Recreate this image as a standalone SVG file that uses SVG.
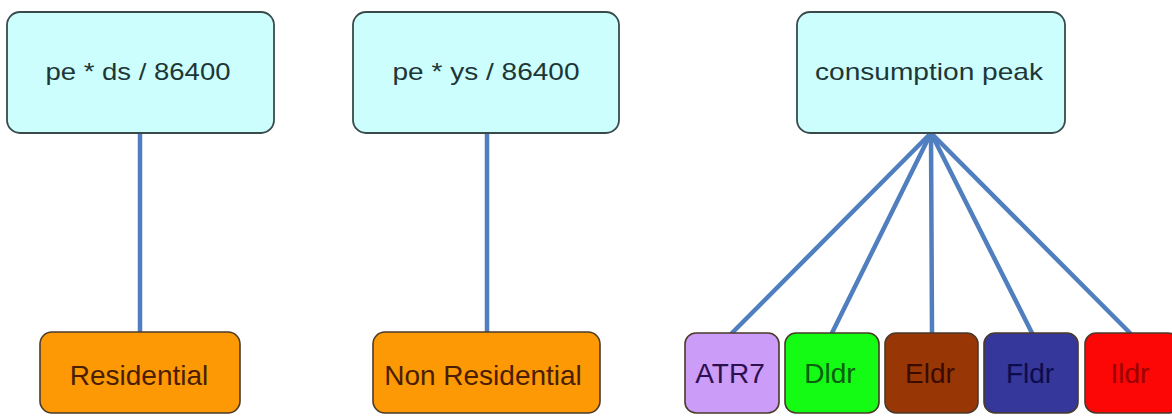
<svg xmlns="http://www.w3.org/2000/svg" width="1172" height="416" viewBox="0 0 1172 416">
  <style>
    .top { fill: #ccfefe; stroke: #3a4a4a; stroke-width: 1.8; }
    .top-text { font-family: "Liberation Sans", Arial, sans-serif; font-size: 24px; fill: #1e3636; text-anchor: middle; }
    .leaf { stroke: #4a3a2a; stroke-width: 1.6; }
    .leaf-text { font-family: "Liberation Sans", Arial, sans-serif; font-size: 28px; text-anchor: middle; }
    .link { stroke: #4f7fbf; stroke-width: 4.5; stroke-linecap: round; fill: none; }
  </style>

  <g id="connectors">
    <line class="link" x1="140" y1="133" x2="140" y2="332"/>
    <line class="link" x1="487" y1="133" x2="487" y2="332"/>
    <line class="link" x1="931" y1="133" x2="732" y2="333"/>
    <line class="link" x1="931" y1="133" x2="832" y2="333"/>
    <line class="link" x1="931" y1="133" x2="932" y2="333"/>
    <line class="link" x1="931" y1="133" x2="1032" y2="333"/>
    <line class="link" x1="931" y1="133" x2="1130" y2="333"/>
  </g>

  <g id="daily">
    <rect class="top" x="7" y="12" width="267" height="121" rx="13"/>
    <text class="top-text" x="138" y="80" textLength="185" lengthAdjust="spacingAndGlyphs">pe * ds / 86400</text>
  </g>
  <g id="yearly">
    <rect class="top" x="353" y="12" width="266" height="121" rx="13"/>
    <text class="top-text" x="486" y="80" textLength="187" lengthAdjust="spacingAndGlyphs">pe * ys / 86400</text>
  </g>
  <g id="consumption-peak">
    <rect class="top" x="797" y="12" width="268" height="121" rx="13"/>
    <text class="top-text" x="929" y="80" textLength="228" lengthAdjust="spacingAndGlyphs">consumption peak</text>
  </g>

  <g id="residential">
    <rect class="leaf" x="40" y="332" width="200" height="81" rx="12" fill="#fc9904"/>
    <text class="leaf-text" x="139" y="385" fill="#4a1e00">Residential</text>
  </g>
  <g id="non-residential">
    <rect class="leaf" x="373" y="332" width="227" height="81" rx="12" fill="#fc9904"/>
    <text class="leaf-text" x="483" y="385" fill="#4a1e00">Non Residential</text>
  </g>

  <g id="atr7">
    <rect class="leaf" x="685" y="333" width="94" height="80" rx="11" fill="#cb9cf8" stroke="#3a3050"/>
    <text class="leaf-text" x="730" y="383" fill="#2e1050">ATR7</text>
  </g>
  <g id="dldr">
    <rect class="leaf" x="785" y="333" width="94" height="80" rx="11" fill="#14fc14" stroke="#2a4a2a"/>
    <text class="leaf-text" x="830" y="383" fill="#0a6010">Dldr</text>
  </g>
  <g id="eldr">
    <rect class="leaf" x="885" y="333" width="93" height="80" rx="11" fill="#983606" stroke="#402010"/>
    <text class="leaf-text" x="930" y="383" fill="#3a0c00">Eldr</text>
  </g>
  <g id="fldr">
    <rect class="leaf" x="984" y="333" width="94" height="80" rx="11" fill="#35379a" stroke="#252550"/>
    <text class="leaf-text" x="1030" y="383" fill="#0c0c4c">Fldr</text>
  </g>
  <g id="ildr">
    <rect class="leaf" x="1085" y="333" width="94" height="80" rx="11" fill="#fc0606" stroke="#502020"/>
    <text class="leaf-text" x="1130" y="383" fill="#9a0000">Ildr</text>
  </g>
</svg>
